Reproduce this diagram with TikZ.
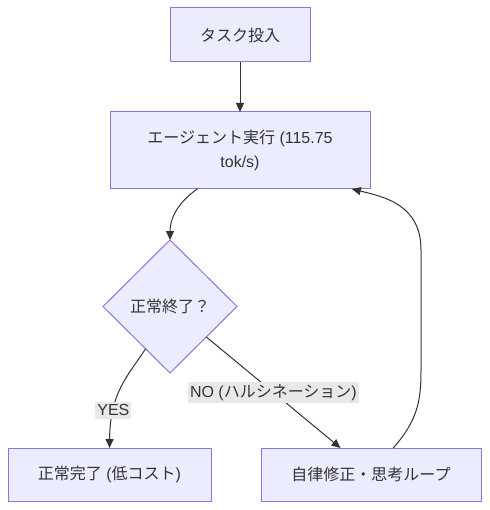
\documentclass[tikz,border=0pt]{standalone}
\usepackage{fontspec}
\setmainfont{Liberation Sans}
\newfontfamily\jp{Noto Sans CJK JP}
\usetikzlibrary{shapes.geometric,arrows.meta}
\definecolor{boxfill}{HTML}{ECECFF}
\definecolor{boxline}{HTML}{9370DB}
\definecolor{ink}{HTML}{333333}
\definecolor{lblbg}{HTML}{E8E8E8}
\tikzset{
  box/.style={draw=boxline, fill=boxfill, line width=1pt, text=ink,
    inner sep=0pt, outer sep=0pt, align=center,
    font=\fontsize{16}{24}\selectfont},
  decide/.style={box, diamond, aspect=1},
  link/.style={draw=ink, line width=1pt, -{Triangle[length=9pt,width=8pt]}},
  lbl/.style={fill=lblbg, text=ink, inner xsep=2pt, inner ysep=2.5pt,
    font=\fontsize{16}{18}\selectfont},
}
\begin{document}
\begin{tikzpicture}[x=1pt,y=-1pt]
    \useasboundingbox (0,0) rectangle (489,510);
    \node[box, minimum width=140pt, minimum height=54pt] (task) at (240,35) {\jp タスク投入};
    \node[box, minimum width=260pt, minimum height=77pt] (agent) at (240,150.5)
        {{\jp エージェント実行} (115.75\\tok/s)};
    \node[decide, minimum width=134pt, minimum height=133pt] (check) at (170,306.5) {\jp 正常終了？};
    \node[box, minimum width=203pt, minimum height=53pt] (done) at (109.5,474.5)
        {{\jp 正常完了} ({\jp 低コスト})};
    \node[box, minimum width=220pt, minimum height=53pt] (fix) at (371,474.5) {\jp 自律修正・思考ループ};
    % flow
    \draw[link] (task) -- (agent);
    \draw[link] (agent.222) .. controls (176,204) and (170,220) .. (check.north);
    \draw[link] (check.240) .. controls (128,376) and (110,392) .. node[lbl, pos=0.73] {YES} (done.north);
    \draw[link] (check.320) -- node[lbl, pos=0.5] {NO ({\jp ハルシネーション})} (fix.139.5);
    % back to agent
    \draw[link] (fix.50) .. controls (418,420) and (421,400) .. (421,370)
        -- (421,250) .. controls (421,205) and (385,197) .. (agent.341);
\end{tikzpicture}
\end{document}
